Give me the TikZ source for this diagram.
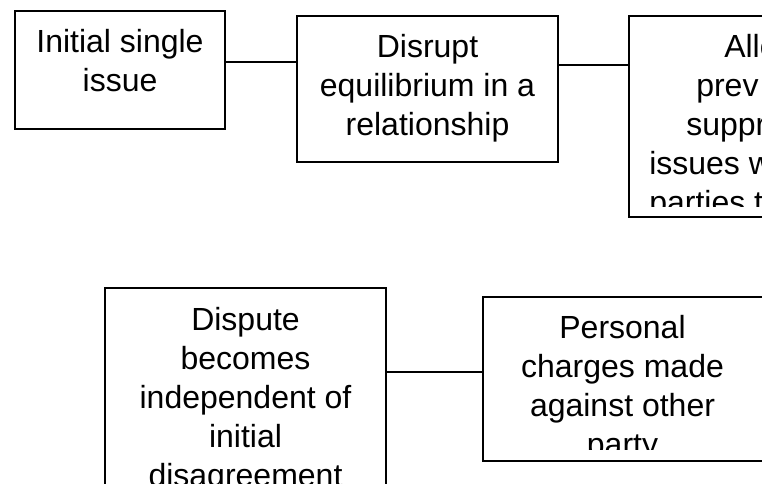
\documentclass[tikz,border=0pt]{standalone}
\usepackage{fontspec}
\setmainfont{Liberation Sans}
\usetikzlibrary{fit}
\usetikzlibrary{calc}

\tikzset{
    box/.style={draw, line width=1.1pt, inner sep=0pt},
    txt/.style={inner sep=0pt, anchor=base, font=\fontsize{24}{29}\selectfont},
    link/.style={line width=1.1pt},
}

\begin{document}
\begin{tikzpicture}[x=0.75pt,y=-0.75pt]
        \useasboundingbox (0,0) rectangle (762,484);
        \clip (0,0) rectangle (762,484);

        % boxes
        \node[box, fit={(15,11) (225,129)}] (single) {};
        \node[box, fit={(297,16) (558,162)}] (equil) {};
        \node[box, fit={(629,16) (911,217)}] (suppr) {};
        \node[box, fit={(105,288) (386,520)}] (indep) {};
        \node[box, fit={(483,297) (764,461)}] (charge) {};

        % texts
        \foreach \t [count=\i] in {Initial single, issue}
            \node[txt] (single\i) at ($(single.north)+(0,{42+39*(\i-1)})$) {\t};
        \foreach \t [count=\i] in {Disrupt, equilibrium in a, relationship}
            \node[txt] (equil\i) at ($(equil.north)+(0,{42+39*(\i-1)})$) {\t};
        \foreach \t [count=\i] in {Dispute, becomes, independent of, initial, disagreement}
            \node[txt] (indep\i) at ($(indep.north)+(0,{43+39*(\i-1)})$) {\t};

        \begin{scope}
            \clip (suppr.north west) rectangle (suppr.east |- 0,207);
            \foreach \x/\y/\t [count=\i] in {724/58/Allo, 696/97/prev, 686/136/suppr, 649/175/issues w, 649/214/parties t}
                \node[txt, anchor=base west] (suppr\i) at (\x,\y) {\t};
        \end{scope}

        \begin{scope}
            \clip (charge.north west) rectangle (charge.east |- 0,449);
            \foreach \t [count=\i] in {Personal, charges made, against other, party}
                \node[txt] (charge\i) at ($(charge.north)+(-1,{42+39*(\i-1)})$) {\t};
        \end{scope}

        % links
        \draw[link] (single.east |- 0,62) -- (equil.west |- 0,62);
        \draw[link] (equil.east |- 0,65) -- (suppr.west |- 0,65);
        \draw[link] (indep.east |- 0,372) -- (charge.west |- 0,372);

\end{tikzpicture}
\end{document}
